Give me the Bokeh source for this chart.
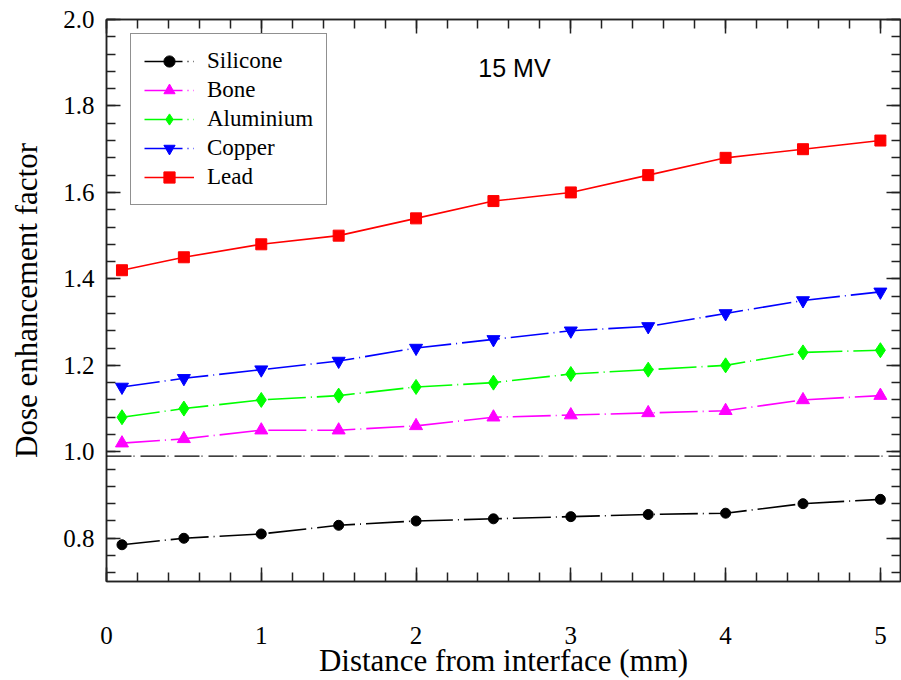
from bokeh.plotting import figure
from bokeh.models import (LinearAxis, SingleIntervalTicker, PrintfTickFormatter, Span,
                          Label, Legend, LegendItem, Range1d, CustomJSTickFormatter)
from bokeh.embed import file_html
from bokeh.resources import INLINE

# ---- data ----
distance_mm = [0.1, 0.5, 1.0, 1.5, 2.0, 2.5, 3.0, 3.5, 4.0, 4.5, 5.0]
silicone = [0.785, 0.80, 0.81, 0.83, 0.84, 0.845, 0.85, 0.855, 0.858, 0.88, 0.89]
bone = [1.02, 1.03, 1.05, 1.05, 1.06, 1.08, 1.085, 1.09, 1.095, 1.12, 1.13]
aluminium = [1.08, 1.10, 1.12, 1.13, 1.15, 1.16, 1.18, 1.19, 1.20, 1.23, 1.235]
copper = [1.15, 1.17, 1.19, 1.21, 1.24, 1.26, 1.28, 1.29, 1.32, 1.35, 1.37]
lead = [1.42, 1.45, 1.48, 1.50, 1.54, 1.58, 1.60, 1.64, 1.68, 1.70, 1.72]
reference_level = 0.99
series_names = ["Silicone", "Bone", "Aluminium", "Copper", "Lead"]
annotation_text = "15 MV"
x_label = "Distance from interface (mm)"
y_label = "Dose enhancement factor"

SERIF = "Liberation Serif"
SANS = "Liberation Sans"
AX = "#222222"

p = figure(width=901, height=680, x_range=Range1d(0, 5.13), y_range=Range1d(0.7, 2.0),
           output_backend="svg", toolbar_location=None,
           min_border_left=106, min_border_top=19, min_border_right=1, min_border_bottom=98)
p.grid.visible = False
p.outline_line_color = AX
p.outline_line_width = 1.5
p.background_fill_color = "white"
p.border_fill_color = "white"


def style_axis(ax, ticker, show_labels):
    ax.ticker = ticker
    ax.axis_line_color = AX
    ax.axis_line_width = 1.5
    ax.major_tick_line_color = AX
    ax.minor_tick_line_color = AX
    ax.major_tick_line_width = 1.5
    ax.minor_tick_line_width = 1.5
    ax.major_tick_in = 14
    ax.major_tick_out = 0
    ax.minor_tick_in = 9
    ax.minor_tick_out = 0
    if show_labels:
        ax.major_label_text_font = SERIF
        ax.major_label_text_font_size = "25px"
        ax.major_label_text_color = "black"
    else:
        ax.formatter = CustomJSTickFormatter(code="return ''")
        ax.major_label_standoff = 0


xt = SingleIntervalTicker(interval=1, num_minor_ticks=5)
yt = SingleIntervalTicker(interval=0.2, num_minor_ticks=5)

xa = p.xaxis[0]
style_axis(xa, xt, True)
xa.major_label_standoff = 45
xa.formatter = PrintfTickFormatter(format="%d")
xa.axis_label = x_label
xa.axis_label_text_font = SERIF
xa.axis_label_text_font_size = "31px"
xa.axis_label_text_font_style = "normal"
xa.axis_label_text_color = "black"
xa.axis_label_standoff = -4

ya = p.yaxis[0]
style_axis(ya, yt, True)
ya.major_label_standoff = 12
ya.formatter = PrintfTickFormatter(format="%.1f")
ya.axis_label = y_label
ya.axis_label_text_font = SERIF
ya.axis_label_text_font_size = "31px"
ya.axis_label_text_font_style = "normal"
ya.axis_label_text_color = "black"
ya.axis_label_standoff = 16

top_ax = LinearAxis()
style_axis(top_ax, SingleIntervalTicker(interval=1, num_minor_ticks=5), False)
p.add_layout(top_ax, "above")
right_ax = LinearAxis()
style_axis(right_ax, SingleIntervalTicker(interval=0.2, num_minor_ticks=5), False)
p.add_layout(right_ax, "right")

# reference dashed line
p.add_layout(Span(location=reference_level, dimension="width", line_color="black",
                  line_width=1.3, line_dash="25 2 1 6"))

colors = ["black", "#FF00FF", "#00FF00", "#0000FF", "#FF0000"]
markers = ["circle", "triangle", "diamond", "inverted_triangle", "square"]
sizes = [10, 13, 15, 13, 11]
dashes = ["38 5 1 5", "38 5 1 5", "38 5 1 5", "38 5 1 5", "solid"]
data = [silicone, bone, aluminium, copper, lead]

items = []
for name, ys, c, m, s, d in zip(series_names, data, colors, markers, sizes, dashes):
    lr = p.line(distance_mm, ys, line_color=c, line_width=1.6, line_dash=d)
    sr = p.scatter(distance_mm, ys, marker=m, size=s, fill_color=c, line_color=c)
    items.append(LegendItem(label=name, renderers=[lr, sr]))

legend = Legend(items=items, location=(24, 376))
legend.label_text_font = SERIF
legend.label_text_font_size = "23px"
legend.label_text_color = "black"
legend.glyph_width = 50
legend.glyph_height = 28
legend.spacing = 1
legend.padding = 13
legend.label_standoff = 13
legend.border_line_color = AX
legend.border_line_width = 1.5
legend.background_fill_alpha = 1.0
legend.label_height = 28
p.add_layout(legend, "center")

p.add_layout(Label(x=2.636, y=1.887, text=annotation_text, text_font=SANS,
                   text_font_size="25px", text_align="center", text_baseline="middle",
                   text_color="black"))

open("out.html", "w").write(file_html(p, INLINE))
